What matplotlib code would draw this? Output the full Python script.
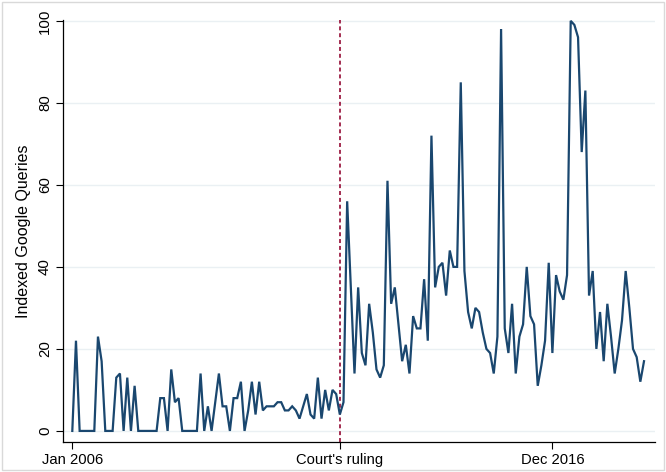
import matplotlib
matplotlib.use("Agg")
import matplotlib.pyplot as plt
import pandas as pd
from matplotlib.patches import Rectangle

# Monthly indexed Google queries, Jan 2006 - Jan 2019
queries = [
    0, 22, 0, 0, 0, 0, 0, 23, 17, 0, 0, 0, 13, 14, 0, 13, 0, 11, 0, 0,
    0, 0, 0, 0, 8, 8, 0, 15, 7, 8, 0, 0, 0, 0, 0, 14, 0, 6, 0, 7,
    14, 6, 6, 0, 8, 8, 12, 0, 5, 12, 4, 12, 5, 6, 6, 6, 7, 7, 5, 5,
    6, 5, 3, 6, 9, 4, 3, 13, 3, 10, 5, 10, 9, 4, 7, 56, 35, 14, 35, 19,
    16, 31, 24, 15, 13, 16, 61, 31, 35, 26, 17, 21, 14, 28, 25, 25, 37, 22, 72, 35,
    40, 41, 33, 44, 40, 40, 85, 39, 29, 25, 30, 29, 24, 20, 19, 14, 23, 98, 25, 19,
    31, 14, 23, 26, 40, 28, 26, 11, 16, 22, 41, 19, 38, 34, 32, 38, 100, 99, 96, 68,
    83, 33, 39, 20, 29, 17, 31, 23, 14, 20, 27, 39, 30, 20, 18, 12, 17,
]
start_month = "2006-01"
tick_months = ["2006-01", "2012-02", "2016-12"]
tick_labels = ["Jan 2006", "Court's ruling", "Dec 2016"]
ruling_month = "2012-02"
y_ticks = [0, 20, 40, 60, 80, 100]

months = pd.period_range(start_month, periods=len(queries), freq="M")
idx = list(range(len(queries)))
pos = {str(m): i for i, m in enumerate(months)}
tick_pos = [pos[m] for m in tick_months]
ruling_pos = pos[ruling_month]

plt.rcParams['font.family'] = ['Liberation Sans', 'DejaVu Sans']

fig = plt.figure(figsize=(6.66, 4.72), dpi=100)
fig.patch.set_facecolor("white")
fig.patches.append(Rectangle((0.003, 0.004), 0.994, 0.992, transform=fig.transFigure,
                             fill=False, edgecolor="#d9d9d9", linewidth=1.0))

ax = fig.add_axes([63/666, 1 - 442/472, (655 - 63)/666, (442 - 20)/472])
ax.plot(idx, queries, color="#1a476f", linewidth=1.6, solid_joinstyle="miter", clip_on=False, zorder=3)
ax.axvline(ruling_pos, color="#9c1c43", linestyle=(0, (2.2, 1.6)), linewidth=1.3, zorder=2)

ax.set_xlim(-2.54, 159.0)
ax.set_ylim(-2.7, 100.2)

ax.set_yticks(y_ticks)
ax.set_yticklabels([str(v) for v in y_ticks], rotation=90, va="center", fontsize=10.8)
ax.set_xticks(tick_pos)
ax.set_xticklabels(tick_labels, fontsize=10.6)
ax.tick_params(axis="both", direction="out", length=5, width=0.8, colors="black")
ax.tick_params(axis="y", pad=3)
ax.tick_params(axis="x", pad=3)

ax.grid(axis="y", color="#eaf0f3", linewidth=1.0, zorder=0)
ax.set_axisbelow(True)
for s in ["top", "right"]:
    ax.spines[s].set_visible(False)
for s in ["left", "bottom"]:
    ax.spines[s].set_linewidth(0.9)
    ax.spines[s].set_color("black")

ax.set_ylabel("Indexed Google Queries", fontsize=11.5, labelpad=5)

fig.savefig("out.png", dpi=100, facecolor="white")
